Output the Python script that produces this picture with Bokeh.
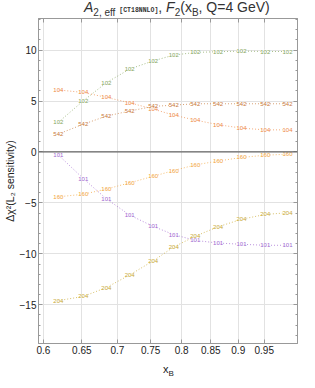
import numpy as np
from bokeh.plotting import figure
from bokeh.models import (ColumnDataSource, FixedTicker, CustomJSTickFormatter, Div,
                          Span, LinearAxis, LogAxis, Range1d)
from bokeh.layouts import column
from bokeh.embed import file_html
from bokeh.resources import INLINE
from bokeh.core.properties import value

# ---- data ----
x_b = [0.619, 0.652, 0.684, 0.718, 0.754, 0.787, 0.823, 0.863, 0.906, 0.952, 0.997]

s104 = [6.09, 5.84, 5.36, 4.83, 4.21, 3.61, 3.13, 2.68, 2.34, 2.17, 2.17]
s102 = [2.91, 5.02, 6.80, 8.14, 8.94, 9.51, 9.77, 9.84, 9.90, 9.86, 9.86]
s542 = [1.76, 2.72, 3.52, 4.02, 4.47, 4.60, 4.73, 4.73, 4.73, 4.73, 4.73]
s101 = [-0.29, -2.61, -4.60, -6.19, -7.31, -8.11, -8.68, -8.94, -9.06, -9.16, -9.16]
s160 = [-4.40, -4.15, -3.64, -3.03, -2.39, -1.82, -1.27, -0.89, -0.54, -0.32, -0.22]
s204 = [-14.59, -14.18, -13.31, -12.07, -10.69, -9.32, -8.27, -7.34, -6.61, -6.13, -5.97]

series_names = ["104", "102", "542", "101", "160", "204"]
series_values = [s104, s102, s542, s101, s160, s204]
series_colors = ["#ee8844", "#86a65e", "#c97a3c", "#a066d0", "#f2a43a", "#c8a832"]

x_ticks = [0.6, 0.65, 0.7, 0.75, 0.8, 0.85, 0.9, 0.95]
y_ticks = [-15, -10, -5, 0, 5, 10]
y_minor = [v for v in range(-18, 14) if v not in y_ticks]

FONT = "Liberation Sans"
AXIS_COL = "#999999"
TXT_COL = "#222222"

p = figure(width=299, height=343, x_axis_type="log",
           x_range=Range1d(0.594, 1.018), y_range=Range1d(-18.8, 13.1),
           output_backend="svg", toolbar_location=None, title=None,
           min_border_left=30, min_border_right=2, min_border_top=0, min_border_bottom=18)

p.outline_line_color = AXIS_COL
p.background_fill_color = "white"
p.border_fill_color = "white"

xt = FixedTicker(ticks=x_ticks, minor_ticks=[])
yt = FixedTicker(ticks=y_ticks, minor_ticks=y_minor)

xa = p.xaxis[0]
xa.ticker = xt
xa.formatter = CustomJSTickFormatter(code="return tick.toString();")
ya = p.yaxis[0]
ya.ticker = yt
ya.formatter = CustomJSTickFormatter(code="return tick < 0 ? '\u2212' + (-tick).toString() : tick.toString();")
ya.axis_label = "\u0394\u03c7\u00b2(L\u2082 sensitivity)"
ya.axis_label_text_font = FONT
ya.axis_label_text_font_style = "normal"
ya.axis_label_text_font_size = "10.5px"
ya.axis_label_text_color = TXT_COL
ya.axis_label_standoff = 1

for ax in (xa, ya):
    ax.axis_line_color = AXIS_COL
    ax.major_tick_line_color = AXIS_COL
    ax.minor_tick_line_color = AXIS_COL
    ax.major_tick_in = 4
    ax.major_tick_out = 0
    ax.minor_tick_in = 2
    ax.minor_tick_out = 0
    ax.major_label_text_font = FONT
    ax.major_label_text_font_size = "10px"
    ax.major_label_text_color = TXT_COL
    ax.major_label_standoff = 2

blank = CustomJSTickFormatter(code="return '';")
ra = LinearAxis(ticker=yt, formatter=blank, major_label_standoff=0,
                major_tick_in=4, major_tick_out=0, minor_tick_in=2, minor_tick_out=0,
                axis_line_color=AXIS_COL, major_tick_line_color=AXIS_COL,
                minor_tick_line_color=AXIS_COL, major_label_text_font_size="1px")
ta = LogAxis(ticker=xt, formatter=blank, major_label_standoff=0,
             major_tick_in=4, major_tick_out=0, minor_tick_in=2, minor_tick_out=0,
             axis_line_color=AXIS_COL, major_tick_line_color=AXIS_COL,
             minor_tick_line_color=AXIS_COL, major_label_text_font_size="1px")
p.add_layout(ra, "right")
p.add_layout(ta, "above")

p.xgrid.ticker = xt
p.ygrid.ticker = yt
p.xgrid.grid_line_color = "#e2e2e2"
p.ygrid.grid_line_color = "#e2e2e2"

p.add_layout(Span(location=0, dimension="width", line_color="#666666", line_width=1.2))

for name, vals, col in zip(series_names, series_values, series_colors):
    src = ColumnDataSource(dict(x=x_b, y=vals, t=[name] * len(x_b)))
    p.line("x", "y", source=src, line_color=col, line_width=0.9, line_dash="1 2", line_alpha=0.8)
    p.text("x", "y", text="t", source=src, text_color=col, text_font=value(FONT),
           text_font_size="6px", text_align="center", text_baseline="middle",
           background_fill_color="white", background_fill_alpha=0.6)

SUB = 'style="font-size:10px"'
title_html = (
    '<div style="font-family:\'Liberation Sans\';font-size:14px;line-height:12px;'
    'color:#333;white-space:nowrap;padding-left:84px;">'
    '<i>A</i><sub ' + SUB + '>2, eff</sub> '
    '<span style="font-family:\'Liberation Mono\';font-size:6.5px;font-weight:bold;">[CT18NNLO]</span>, '
    '<i>F</i><sub ' + SUB + '>2</sub>(x<sub ' + SUB + '>B</sub>, Q=4 GeV)</div>'
)
title_div = Div(text=title_html, width=299, height=18, margin=(0, 0, 0, 0))

xlab_html = (
    '<div style="font-family:\'Liberation Sans\';font-size:11px;line-height:11px;'
    'color:#222;white-space:nowrap;padding-left:163px;">'
    'x<sub style="font-size:8px">B</sub></div>'
)
xlab_div = Div(text=xlab_html, width=299, height=11, margin=(0, 0, 0, 0))

layout = column(title_div, p, xlab_div, spacing=0)

open("out.html", "w").write(file_html(layout, INLINE))
